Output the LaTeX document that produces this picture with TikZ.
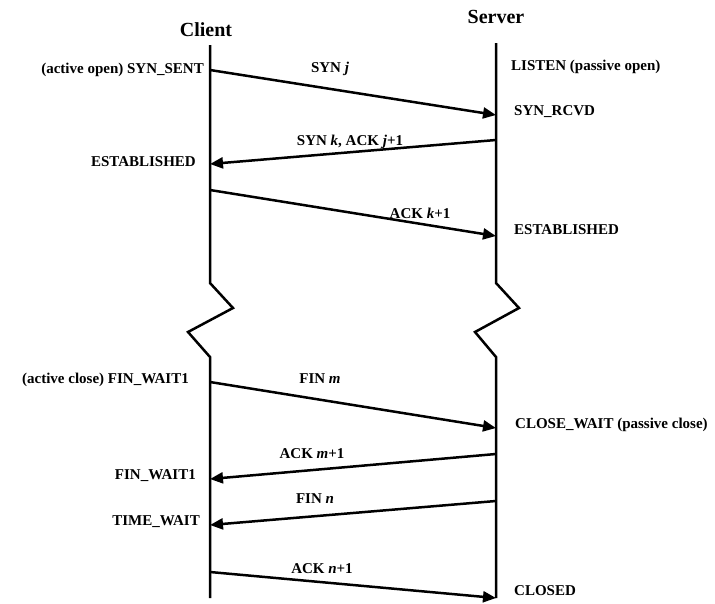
\documentclass[tikz,border=0pt]{standalone}
\usepackage{fontspec}
\setmainfont{Liberation Serif}
\usepackage{tikz}
\usetikzlibrary{arrows.meta}

\begin{document}
\begin{tikzpicture}[
  x=1pt, y=-1pt,
  every node/.style={font=\fontsize{15}{17}\selectfont\bfseries, inner sep=1pt},
  host/.style={font=\fontsize{20}{22}\selectfont\bfseries},
  lifeline/.style={line width=2.5pt, line join=miter},
  msg/.style={line width=2.5pt, -{Triangle[length=13pt,width=11pt]}},
  lstate/.style={anchor=east},
  rstate/.style={anchor=west},
  msglabel/.style={anchor=base}
]
\useasboundingbox (0,0) rectangle (715,603);
% hosts
\node[host] (client) at (206,30) {Client};
\node[host] (server) at (496,17) {Server};
% lifelines with the time break
\draw[lifeline] (210,45) -- (210,283) -- (233,308) -- (188,332) -- (210,357) -- (210,598);
\draw[lifeline] (496,43) -- (496,283) -- (519,308) -- (475,332) -- (496,357) -- (496,598);
% points on the lifelines
\coordinate (c1) at (210,70);
\coordinate (s1) at (496,115);
\coordinate (s2) at (496,140);
\coordinate (c2) at (210,164);
\coordinate (c3) at (210,190);
\coordinate (s3) at (496,236);
\coordinate (c4) at (210,382);
\coordinate (s4) at (496,428);
\coordinate (s5) at (496,454);
\coordinate (c5) at (210,479);
\coordinate (s6) at (496,501);
\coordinate (c6) at (210,525);
\coordinate (c7) at (210,572);
\coordinate (s7) at (496,598);
% client states
\node[lstate] (synsent) at (205,70) {(active open) SYN\_SENT};
\node[lstate] (estc) at (197,162) {ESTABLISHED};
\node[lstate] (finwaita) at (190,380) {(active close) FIN\_WAIT1};
\node[lstate] (finwaitb) at (197,476) {FIN\_WAIT1};
\node[lstate] (timewait) at (201,522) {TIME\_WAIT};
% server states
\node[rstate] (listen) at (510,67) {LISTEN (passive open)};
\node[rstate] (synrcvd) at (513,112) {SYN\_RCVD};
\node[rstate] (ests) at (513,230) {ESTABLISHED};
\node[rstate] (closewait) at (514,425) {CLOSE\_WAIT (passive close)};
\node[rstate] (closed) at (513,591) {CLOSED};
% segments
\draw[msg] (c1) -- (s1);
\draw[msg] (s2) -- (c2);
\draw[msg] (c3) -- (s3);
\draw[msg] (c4) -- (s4);
\draw[msg] (s5) -- (c5);
\draw[msg] (s6) -- (c6);
\draw[msg] (c7) -- (s7);
\node[msglabel] (synj) at (330,72) {SYN \textit{j}};
\node[msglabel] (synk) at (350,145) {SYN \textit{k}, ACK \textit{j}+1};
\node[msglabel] (ackk) at (420,218) {ACK \textit{k}+1};
\node[msglabel] (finm) at (320,383) {FIN \textit{m}};
\node[msglabel] (ackm) at (312,458) {ACK \textit{m}+1};
\node[msglabel] (finn) at (315,503) {FIN \textit{n}};
\node[msglabel] (ackn) at (322,573) {ACK \textit{n}+1};
\end{tikzpicture}
\end{document}
